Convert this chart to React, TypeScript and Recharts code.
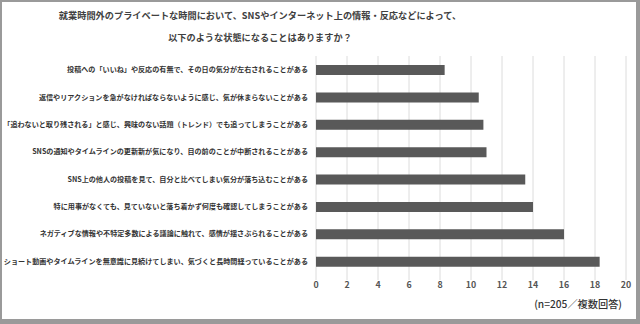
import { BarChart, Bar, XAxis, YAxis, CartesianGrid } from "recharts";

const categories = [
  "投稿への「いいね」や反応の有無で、その日の気分が左右されることがある",
  "返信やリアクションを急がなければならないように感じ、気が休まらないことがある",
  "「追わないと取り残される」と感じ、興味のない話題（トレンド）でも追ってしまうことがある",
  "SNSの通知やタイムラインの更新新が気になり、目の前のことが中断されることがある",
  "SNS上の他人の投稿を見て、自分と比べてしまい気分が落ち込むことがある",
  "特に用事がなくても、見ていないと落ち着かず何度も確認してしまうことがある",
  "ネガティブな情報や不特定多数による議論に触れて、感情が揺さぶられることがある",
  "ショート動画やタイムラインを無意識に見続けてしまい、気づくと長時間経っていることがある",
];
const values = [8.3, 10.5, 10.8, 11.0, 13.5, 14.0, 16.0, 18.3];
const xTicks = [0, 2, 4, 6, 8, 10, 12, 14, 16, 18, 20];

const titleLines = [
  "就業時間外のプライベートな時間において、SNSやインターネット上の情報・反応などによって、",
  "以下のような状態になることはありますか？",
];
const note = "(n=205／複数回答)";

const data = categories.map((name, i) => ({ name, value: values[i] }));

const font = '"Noto Sans CJK JP", "Noto Sans", sans-serif';

export default function App() {
  return (
    <div
      style={{
        position: "relative",
        width: 640,
        height: 324,
        background: "#9a9a9a",
        fontFamily: font,
        overflow: "hidden",
      }}
    >
      <style>{`body{margin:0}`}</style>
      <div
        style={{
          position: "absolute",
          left: 2,
          top: 2,
          width: 634,
          height: 317,
          background: "#ffffff",
        }}
      />
      {titleLines.map((t, i) => (
        <div
          key={i}
          style={{
            position: "absolute",
            left: 0,
            width: 520,
            top: i === 0 ? 9 : 31,
            textAlign: "center",
            fontSize: 9.2,
            lineHeight: "13px",
            fontWeight: 700,
            color: "#404040",
            whiteSpace: "nowrap",
          }}
        >
          {t}
        </div>
      ))}
      <div style={{ position: "absolute", left: 0, top: 0 }}>
        <BarChart
          width={640}
          height={324}
          data={data}
          layout="vertical"
          margin={{ top: 56, right: 14, bottom: 19, left: 0 }}
          barSize={10}
        >
          <CartesianGrid horizontal={false} stroke="#dcdcdc" />
          <XAxis
            type="number"
            domain={[0, 20]}
            ticks={xTicks}
            height={30}
            axisLine={false}
            tickLine={{ stroke: "#dcdcdc" }}
            tickSize={5}
            tick={{ fontSize: 8.8, fill: "#555555", fontWeight: 700, fontFamily: font }}
          />
          <YAxis
            type="category"
            dataKey="name"
            width={316}
            axisLine={false}
            tickLine={false}
            interval={0}
            tick={{ fontSize: 7.1, fill: "#333333", fontWeight: 700, fontFamily: font }}
          />
          <Bar dataKey="value" fill="#595959" isAnimationActive={false} />
        </BarChart>
      </div>
      <div
        style={{
          position: "absolute",
          right: 18,
          top: 297,
          fontSize: 10.2,
          lineHeight: "14px",
          color: "#333333",
          fontWeight: 500,
          whiteSpace: "nowrap",
        }}
      >
        {note}
      </div>
    </div>
  );
}
